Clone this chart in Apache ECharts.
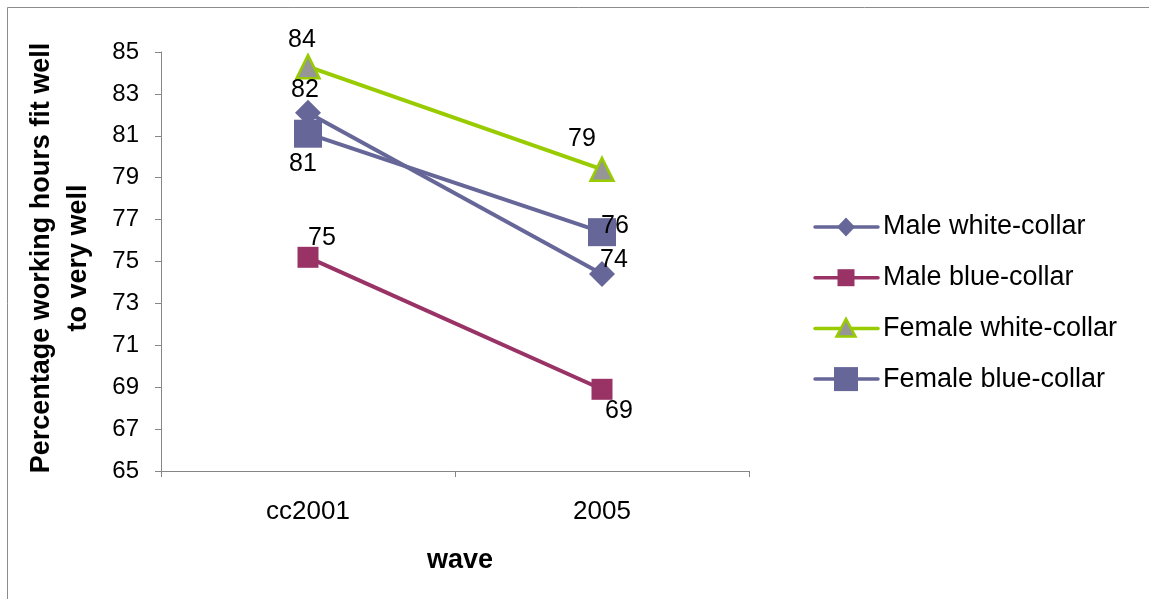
<!DOCTYPE html>
<html>
<head>
<meta charset="utf-8">
<script src="https://cdn.jsdelivr.net/npm/echarts@6/dist/echarts.min.js"></script>
<style>
  html, body { margin: 0; padding: 0; background: #fff; }
  #chart { width: 1149px; height: 599px; }
</style>
</head>
<body>
<div id="chart"></div>
<script>
// Survey waves on the category axis
const waves = ['cc2001', '2005'];

// Series names, in legend order
const seriesNames = ['Male white-collar', 'Male blue-collar', 'Female white-collar', 'Female blue-collar'];

// Percentage saying working hours fit well to very well
const maleWhite = [82.1, 74.4];
const maleBlue = [75.2, 68.9];
const femaleWhite = [84.3, 79.4];
const femaleBlue = [81.1, 76.4];

// Value axis range
const yMin = 65, yMax = 85, yStep = 2;

const FONT = '"Liberation Sans", Arial, sans-serif';

const styles = [
  { symbol: 'diamond', size: 26, line: '#666699', fill: '#666699', border: null, legendSize: 19 },
  { symbol: 'rect', size: 21, line: '#993366', fill: '#993366', border: null, legendSize: 17 },
  { symbol: 'triangle', size: 23, line: '#99CC00', fill: '#969696', border: '#99CC00', legendSize: 19 },
  { symbol: 'rect', size: 28, line: '#666699', fill: '#666699', border: null, legendSize: 24 }
];

function labelled(values, offsets) {
  return values.map((v, i) => ({ value: v, label: { offset: offsets[i] } }));
}

const baseLabel = {
  show: true,
  position: 'inside',
  color: '#000',
  fontFamily: FONT,
  fontSize: 25,
  formatter: p => Math.round(p.value)
};

function makeSeries(idx, values, offsets, z) {
  const s = styles[idx];
  return {
    name: seriesNames[idx],
    type: 'line',
    data: labelled(values, offsets),
    symbol: s.symbol,
    symbolSize: s.size,
    lineStyle: { color: s.line, width: 4 },
    itemStyle: s.border
      ? { color: s.fill, borderColor: s.border, borderWidth: 2.5 }
      : { color: s.fill },
    label: baseLabel,
    z: z
  };
}

// Legend drawn as graphics so each entry keeps its own marker size
function legendEntry(idx) {
  const s = styles[idx];
  const cy = 227 + idx * 50.7;
  const cx = 846;
  const h = s.legendSize / 2;
  let marker;
  if (s.symbol === 'diamond') {
    marker = { type: 'polygon', shape: { points: [[cx, cy - h], [cx + h * 0.95, cy], [cx, cy + h], [cx - h * 0.95, cy]] }, style: { fill: s.fill } };
  } else if (s.symbol === 'triangle') {
    marker = { type: 'polygon', shape: { points: [[cx, cy - h], [cx + h, cy + h * 0.85], [cx - h, cy + h * 0.85]] }, style: { fill: s.fill, stroke: s.border, lineWidth: 2.5 } };
  } else {
    marker = { type: 'rect', shape: { x: cx - h, y: cy - h, width: 2 * h, height: 2 * h }, style: { fill: s.fill } };
  }
  return [
    { type: 'line', shape: { x1: 815, y1: cy, x2: 878, y2: cy }, style: { stroke: s.line, lineWidth: 3.5, lineCap: 'round' } },
    marker,
    { type: 'text', x: 883, y: cy, style: { text: seriesNames[idx], font: '27px ' + FONT, fill: '#000', verticalAlign: 'middle' } }
  ];
}

const chart = echarts.init(document.getElementById('chart'), null, { renderer: 'canvas' });

chart.setOption({
  animation: false,
  backgroundColor: '#fff',
  grid: { left: 161, top: 52, width: 588, height: 419 },
  xAxis: {
    type: 'category',
    data: waves,
    boundaryGap: true,
    axisLine: { lineStyle: { color: '#868686', width: 1 } },
    axisTick: { show: true, length: 6, lineStyle: { color: '#868686' } },
    axisLabel: { color: '#000', fontFamily: FONT, fontSize: 26, margin: 28 },
    splitLine: { show: false }
  },
  yAxis: {
    type: 'value',
    min: yMin, max: yMax, interval: yStep,
    axisLine: { show: true, lineStyle: { color: '#868686', width: 1 } },
    axisTick: { show: true, length: 6, lineStyle: { color: '#868686' } },
    axisLabel: { color: '#000', fontFamily: FONT, fontSize: 24, margin: 22 },
    splitLine: { show: false }
  },
  graphic: [
    {
      type: 'rect',
      shape: { x: 7.5, y: 7.5, width: 1300, height: 700 },
      style: { fill: 'none', stroke: '#8c8c8c', lineWidth: 1 },
      silent: true
    },
    {
      type: 'text',
      x: 60, y: 258,
      rotation: Math.PI / 2,
      style: {
        text: 'Percentage working hours fit well\nto very well',
        font: 'bold 27px ' + FONT,
        fill: '#000',
        align: 'center',
        verticalAlign: 'middle',
        lineHeight: 37
      }
    },
    {
      type: 'text',
      x: 460, y: 561,
      style: {
        text: 'wave',
        font: 'bold 27px ' + FONT,
        fill: '#000',
        align: 'center',
        verticalAlign: 'middle',
        letterSpacing: 2
      }
    }
  ].concat(
    legendEntry(0), legendEntry(1), legendEntry(2), legendEntry(3)
  ),
  series: [
    makeSeries(0, maleWhite, [[-3, -23], [12, -14]], 3),
    makeSeries(1, maleBlue, [[14, -19], [17, 22]], 3),
    makeSeries(2, femaleWhite, [[-6, -27], [-20, -30]], 3),
    makeSeries(3, femaleBlue, [[-5, 30], [13, -6]], 4)
  ]
});
</script>
</body>
</html>
